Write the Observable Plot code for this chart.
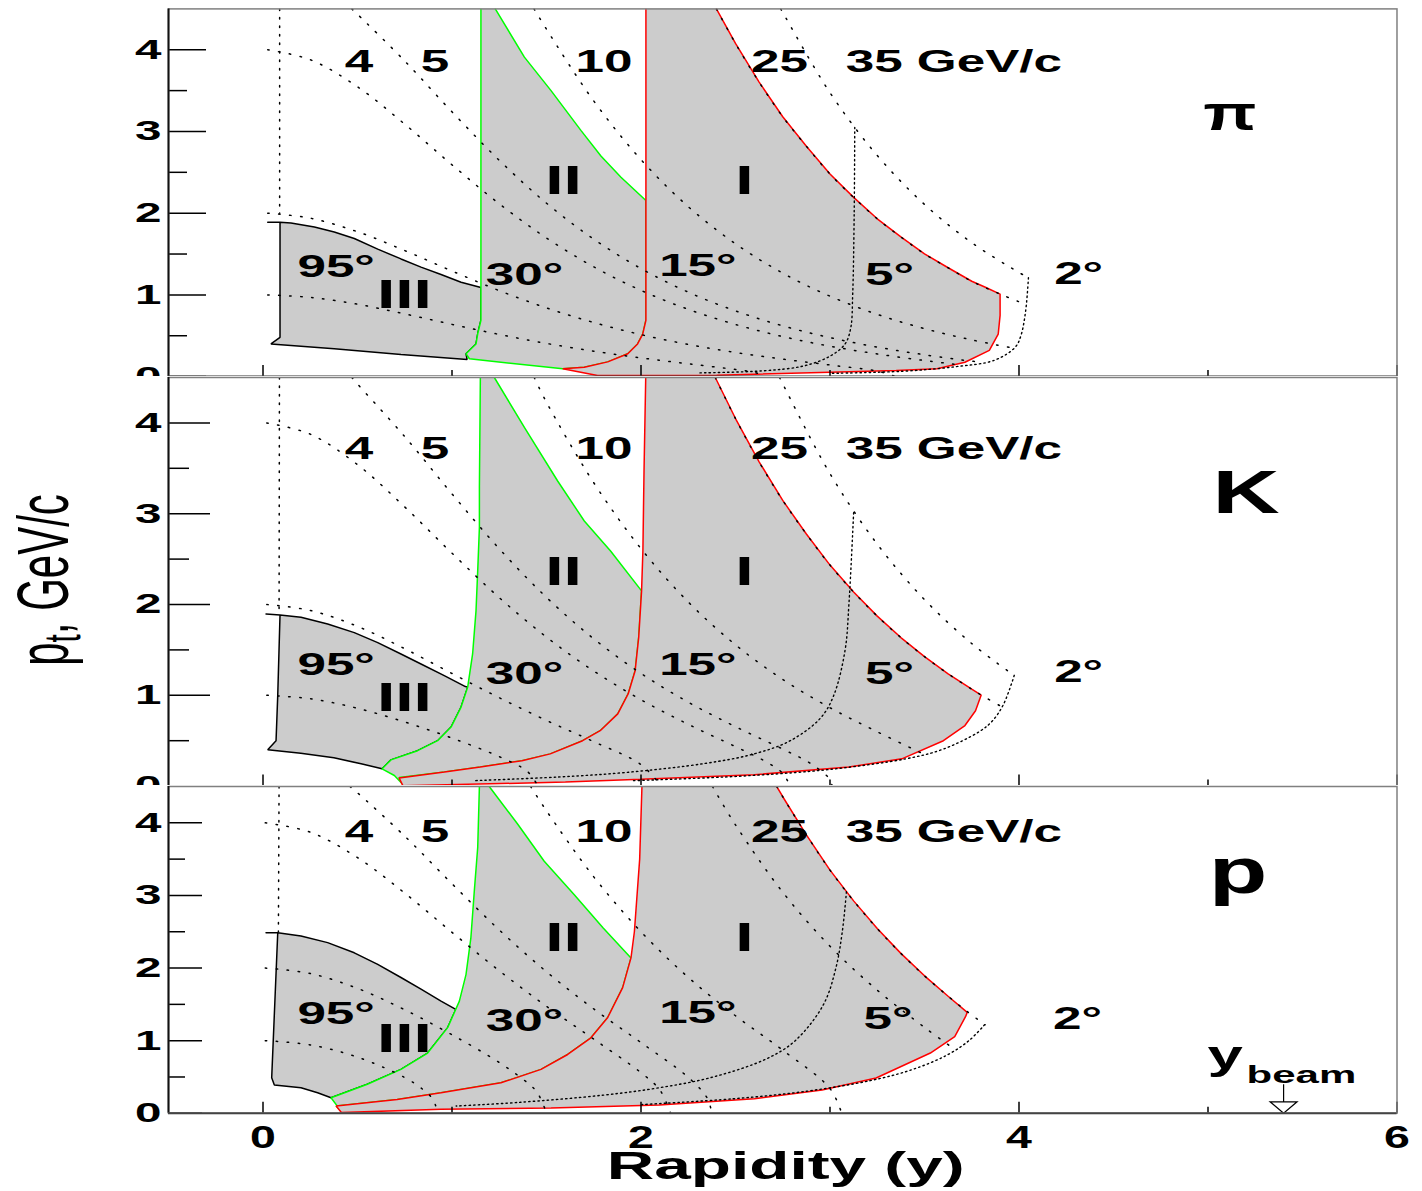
<!DOCTYPE html>
<html><head><meta charset="utf-8">
<script src="https://cdn.jsdelivr.net/npm/d3@7"></script>
<script src="https://cdn.jsdelivr.net/npm/@observablehq/plot@0.6"></script>
<style>
body{margin:0;background:#fff;}
#chart{position:relative;width:1422px;height:1191px;overflow:hidden;background:#fff;}
#chart svg{position:absolute;left:0;overflow:visible;}
</style></head><body><div id="chart"></div>
<script>
// ---------- axis / label data ----------
const xDomain = [-0.5, 6];
const yDomain = [0, 4.5];
const yMajor = [0, 1, 2, 3, 4];
const yMinor = [0.5, 1.5, 2.5, 3.5];
const xMajor = [0, 2, 4, 6];
const xMinor = [1, 3, 5];
const momentumLabels = ["4", "5", "10", "25", "35 GeV/c"];
const angleLabels = ["95°", "30°", "15°", "5°", "2°"];
const regionLabels = ["III", "II", "I"];
const particleLabels = ["π", "K", "p"];
const xTitle = "Rapidity (y)";
const yBeam = 5.4;

// ---------- pion panel (rapidity, pt) ----------
const piRegionIII = [[0.025,1.89],[0.09,1.89],[0.148,1.88],[0.272,1.83],[0.377,1.77],[0.483,1.69],[0.607,1.56],[0.73,1.44],[0.836,1.34],[0.942,1.25],[1.048,1.155],[1.153,1.09],[1.153,0.69],[1.136,0.524],[1.127,0.40],[1.074,0.279],[1.08,0.21],[0.73,0.27],[0.377,0.34],[0.042,0.40],[0.09,0.48],[0.09,1.89]];
const piRegionII = [[1.229,4.5],[1.383,3.91],[1.524,3.50],[1.683,3.01],[1.788,2.70],[1.894,2.44],[2.026,2.155],[2.026,0.69],[2.009,0.52],[1.982,0.40],[1.93,0.28],[1.824,0.18],[1.70,0.115],[1.586,0.095],[1.092,0.218],[1.074,0.279],[1.127,0.40],[1.136,0.524],[1.153,0.69],[1.153,4.5]];
const piRegionI = [[2.026,4.5],[2.026,0.69],[2.009,0.52],[1.982,0.40],[1.93,0.28],[1.824,0.18],[1.70,0.115],[1.586,0.095],[1.77,0.013],[2.4,0.015],[3.0,0.054],[3.35,0.075],[3.566,0.095],[3.714,0.176],[3.843,0.32],[3.89,0.52],[3.90,0.75],[3.90,1.01],[3.825,1.09],[3.75,1.167],[3.625,1.332],[3.5,1.502],[3.375,1.709],[3.25,1.931],[3.125,2.193],[3.0,2.479],[2.875,2.819],[2.75,3.18],[2.625,3.604],[2.5,4.077],[2.399,4.5]];
const piP1 = [[0.025,1.0],[0.25,0.969],[0.5,0.886],[0.75,0.767],[1.0,0.639],[1.25,0.516],[1.5,0.406],[1.75,0.311],[2.0,0.229],[2.25,0.157],[2.5,0.087],[2.6,0.052],[2.66,0.0]];
const piP2 = [[0.025,2.0],[0.25,1.939],[0.5,1.773],[0.75,1.542],[1.0,1.292],[1.25,1.052],[1.5,0.841],[1.75,0.662],[2.0,0.514],[2.25,0.394],[2.5,0.295],[2.75,0.214],[3.0,0.142],[3.25,0.067],[3.35,0.0]];
const piP4 = [[0.025,4.0],[0.25,3.878],[0.5,3.547],[0.75,3.089],[1.0,2.592],[1.25,2.115],[1.5,1.696],[1.75,1.343],[2.0,1.055],[2.25,0.823],[2.5,0.638],[2.75,0.49],[3.0,0.372],[3.25,0.277],[3.5,0.197],[3.7,0.14]];
const piP5 = [[0.47,4.5],[0.5,4.434],[0.75,3.862],[1.0,3.24],[1.25,2.647],[1.5,2.122],[1.75,1.682],[2.0,1.322],[2.25,1.033],[2.5,0.804],[2.75,0.621],[3.0,0.477],[3.25,0.361],[3.5,0.267],[3.75,0.189],[3.8,0.178]];
const piP10 = [[1.434,4.5],[1.5,4.251],[1.75,3.373],[2.0,2.655],[2.25,2.08],[2.5,1.625],[2.75,1.266],[3.0,0.984],[3.25,0.762],[3.5,0.587],[3.75,0.449],[3.98,0.345]];
const piP25 = [[2.399,4.5],[2.5,4.077],[2.625,3.604],[2.75,3.18],[2.875,2.819],[3.0,2.479],[3.125,2.193],[3.25,1.931],[3.375,1.709],[3.5,1.502],[3.625,1.332],[3.75,1.167],[3.9,1.01],[4.03,0.888]];
const piP35 = [[2.739,4.5],[2.75,4.457],[3.0,3.474],[3.25,2.706],[3.5,2.107],[3.75,1.639],[4.0,1.274],[4.05,1.21]];
const piA95 = [[0.088,4.5],[0.088,2.0]];
const piA5 = [[3.131,3.05],[3.128,2.0],[3.12,1.0],[3.11,0.6],[3.08,0.4],[3.0,0.25],[2.86,0.13],[2.64,0.07],[2.3,0.045]];
const piA2 = [[4.05,1.21],[4.035,0.8],[4.01,0.5],[3.98,0.36],[3.87,0.2],[3.66,0.12],[3.38,0.065],[3.0,0.04]];

// ---------- kaon panel ----------
const kRegionIII = [[0.016,1.895],[0.09,1.885],[0.201,1.86],[0.342,1.785],[0.483,1.69],[0.607,1.58],[0.73,1.455],[0.836,1.345],[0.959,1.217],[1.071,1.096],[1.083,1.09],[1.048,0.87],[0.995,0.65],[0.924,0.50],[0.818,0.39],[0.677,0.289],[0.63,0.19],[0.519,0.245],[0.375,0.311],[0.20,0.362],[0.025,0.40],[0.069,0.50],[0.078,1.0],[0.09,1.885]];
const kRegionII = [[1.224,4.5],[1.383,3.95],[1.559,3.36],[1.70,2.92],[1.839,2.59],[2.003,2.15],[1.988,1.64],[1.969,1.27],[1.932,1.015],[1.877,0.795],[1.784,0.61],[1.691,0.50],[1.52,0.355],[1.37,0.28],[1.15,0.21],[0.96,0.155],[0.72,0.095],[0.739,0.02],[0.695,0.117],[0.63,0.19],[0.677,0.289],[0.818,0.39],[0.924,0.50],[0.995,0.65],[1.048,0.87],[1.083,1.09],[1.109,1.455],[1.127,1.93],[1.136,2.37],[1.145,2.85],[1.145,3.29],[1.15,4.5]];
const kRegionI = [[2.025,4.5],[2.016,3.47],[2.01,2.59],[2.003,2.15],[1.988,1.64],[1.969,1.27],[1.932,1.015],[1.877,0.795],[1.784,0.61],[1.691,0.50],[1.52,0.355],[1.37,0.28],[1.15,0.21],[0.96,0.155],[0.72,0.09],[0.74,0.005],[1.2,0.025],[1.6,0.045],[2.0,0.075],[2.6,0.125],[3.1,0.21],[3.38,0.30],[3.60,0.50],[3.714,0.667],[3.77,0.83],[3.80,1.003],[3.75,1.067],[3.625,1.237],[3.5,1.426],[3.375,1.636],[3.25,1.872],[3.125,2.137],[3.0,2.434],[2.875,2.776],[2.75,3.146],[2.625,3.571],[2.5,4.048],[2.393,4.5]];
const kP1 = [[0.02,1.0],[0.25,0.962],[0.5,0.857],[0.75,0.706],[1.0,0.528],[1.25,0.324],[1.4,0.159],[1.455,0.0]];
const kP2 = [[0.02,2.0],[0.25,1.935],[0.5,1.759],[0.75,1.513],[1.0,1.24],[1.25,0.973],[1.5,0.723],[1.75,0.489],[2.0,0.237],[2.107,0.0]];
const kP4 = [[0.02,4.0],[0.25,3.876],[0.5,3.54],[0.75,3.074],[1.0,2.565],[1.25,2.076],[1.5,1.641],[1.75,1.267],[2.0,0.951],[2.25,0.68],[2.5,0.434],[2.65,0.281],[2.75,0.14],[2.789,0.0]];
const kP5 = [[0.47,4.5],[0.5,4.428],[0.75,3.849],[1.0,3.218],[1.25,2.614],[1.5,2.078],[1.75,1.622],[2.0,1.241],[2.25,0.924],[2.5,0.654],[2.75,0.407],[2.9,0.245],[3.0,0.073],[3.011,0.0]];
const kP10 = [[1.435,4.5],[1.5,4.227],[1.75,3.341],[2.0,2.615],[2.25,2.028],[2.5,1.556],[2.75,1.175],[3.0,0.863],[3.25,0.598],[3.5,0.348]];
const kP25 = [[2.393,4.5],[2.5,4.048],[2.625,3.571],[2.75,3.146],[2.875,2.776],[3.0,2.434],[3.125,2.137],[3.25,1.872],[3.375,1.636],[3.5,1.426],[3.625,1.237],[3.75,1.067],[3.8,1.003],[3.92,0.86]];
const kP35 = [[2.733,4.5],[2.75,4.43],[3.0,3.441],[3.25,2.665],[3.5,2.054],[3.75,1.57],[3.97,1.225]];
const kA95 = [[0.087,4.5],[0.085,1.9]];
const kA5 = [[3.125,3.01],[3.10,2.0],[3.08,1.5],[3.02,1.0],[2.95,0.75],[2.79,0.5],[2.59,0.35],[2.34,0.25],[1.92,0.15],[1.56,0.1],[1.12,0.06]];
const kA2 = [[3.975,1.22],[3.918,0.9],[3.86,0.72],[3.79,0.6],[3.59,0.4],[3.4,0.3],[3.07,0.2],[2.82,0.15],[2.44,0.1],[1.96,0.06]];

// ---------- proton panel ----------
const pRegionIII = [[0.016,2.486],[0.078,2.486],[0.201,2.44],[0.342,2.35],[0.483,2.21],[0.607,2.05],[0.73,1.87],[0.836,1.71],[0.942,1.545],[1.02,1.43],[0.977,1.18],[0.871,0.83],[0.73,0.605],[0.552,0.40],[0.36,0.215],[0.289,0.284],[0.201,0.352],[0.06,0.39],[0.046,0.49],[0.078,2.486]];
const pRegionII = [[1.197,4.5],[1.348,3.98],[1.488,3.47],[1.647,3.01],[1.80,2.55],[1.947,2.14],[1.903,1.73],[1.823,1.315],[1.735,1.04],[1.612,0.81],[1.471,0.605],[1.259,0.42],[0.942,0.284],[0.71,0.19],[0.387,0.10],[0.413,0.03],[0.36,0.215],[0.552,0.40],[0.73,0.605],[0.871,0.83],[0.977,1.18],[1.039,1.545],[1.074,1.91],[1.10,2.42],[1.118,3.06],[1.136,3.66],[1.145,4.5]];
const pRegionI = [[2.005,4.5],[1.993,3.5],[1.965,2.5],[1.947,2.14],[1.903,1.73],[1.823,1.315],[1.735,1.04],[1.612,0.81],[1.471,0.605],[1.259,0.42],[0.942,0.284],[0.71,0.19],[0.387,0.10],[0.415,0.01],[0.942,0.055],[1.524,0.073],[2.097,0.114],[2.6,0.2],[2.958,0.32],[3.244,0.486],[3.531,0.83],[3.66,1.055],[3.717,1.33],[3.726,1.39],[3.625,1.612],[3.5,1.893],[3.375,2.202],[3.25,2.544],[3.125,2.925],[3.0,3.349],[2.875,3.835],[2.75,4.359],[2.718,4.5]];
const pP1 = [[0.012,1.0],[0.25,0.942],[0.5,0.774],[0.75,0.492],[0.85,0.32],[0.9,0.189],[0.925,0.0]];
const pP2 = [[0.012,2.0],[0.25,1.925],[0.5,1.72],[0.75,1.425],[1.0,1.081],[1.25,0.699],[1.4,0.418],[1.45,0.292],[1.501,0.0]];
const pP4 = [[0.012,4.0],[0.25,3.871],[0.5,3.521],[0.75,3.032],[1.0,2.492],[1.25,1.963],[1.5,1.473],[1.75,1.021],[2.0,0.559],[2.1,0.321],[2.157,0.0]];
const pP5 = [[0.46,4.5],[0.5,4.413],[0.75,3.816],[1.0,3.161],[1.25,2.525],[1.5,1.949],[1.75,1.437],[2.0,0.974],[2.25,0.495],[2.35,0.211],[2.375,0.0]];
const pP10 = [[1.416,4.5],[1.5,4.165],[1.75,3.256],[2.0,2.5],[2.25,1.872],[2.5,1.343],[2.75,0.869],[3.0,0.34],[3.062,0.0]];
const pP25 = [[2.378,4.5],[2.5,3.971],[2.75,3.044],[3.0,2.301],[3.25,1.695],[3.5,1.183],[3.66,0.88]];
const pP35 = [[2.718,4.5],[2.75,4.359],[2.875,3.835],[3.0,3.349],[3.125,2.925],[3.25,2.544],[3.375,2.202],[3.5,1.893],[3.625,1.612],[3.726,1.4],[3.82,1.22]];
const pA95 = [[0.085,4.5],[0.0815,2.5]];
const pA5 = [[3.087,3.05],[3.065,2.5],[3.031,2.0],[2.966,1.5],[2.816,1.0],[2.664,0.75],[2.382,0.5],[2.092,0.35],[1.8,0.25],[1.352,0.15],[1.022,0.1]];
const pA2 = [[3.818,1.22],[3.735,1.0],[3.618,0.8],[3.433,0.6],[3.213,0.45],[2.865,0.3],[2.489,0.2],[2.004,0.12]];

// ---------- rendering ----------
const FONT = "Liberation Sans, Arial, Helvetica, sans-serif";
const GRAY = "#cccccc", GREEN = "#00ff00", RED = "#ff0000";

const panels = [
  {top: 0, mt: 8.4, fh: 367.7, mb: 16,
   regions: [[piRegionIII, "#000"], [piRegionII, GREEN], [piRegionI, RED]],
   mom: [piP1, piP2, piP4, piP5, piP10, piP25, piP35], a95: piA95, angs: [piA5, piA2],
   momY: 3.848, angY: [1.348, 1.25, 1.36, 1.25, 1.262], angX: [0.182, 1.179, 2.096, 3.185, 4.186],
   regY: [0.993, 2.388, 2.388], part: {x: 5.116, y: 3.21, size: 48}, tick: [38, 19]},
  {top: 376, mt: 1, fh: 408.6, mb: 16,
   regions: [[kRegionIII, "#000"], [kRegionII, GREEN], [kRegionI, RED]],
   mom: [kP1, kP2, kP4, kP5, kP10, kP25, kP35], a95: kA95, angs: [kA5, kA2],
   momY: 3.714, angY: [1.338, 1.239, 1.338, 1.239, 1.26], angX: [0.182, 1.179, 2.096, 3.185, 4.186],
   regY: [0.963, 2.36, 2.36], part: {x: 5.201, y: 3.23, size: 62}, tick: [42, 21]},
  {top: 784.5, mt: 1, fh: 326.8, mb: 78.7,
   regions: [[pRegionIII, "#000"], [pRegionII, GREEN], [pRegionI, RED]],
   mom: [pP1, pP2, pP4, pP5, pP10, pP25, pP35], a95: pA95, angs: [pA5, pA2],
   momY: 3.872, angY: [1.374, 1.27, 1.385, 1.298, 1.298], angX: [0.182, 1.179, 2.096, 3.177, 4.18],
   regY: [1.023, 2.406, 2.406], part: {x: 5.159, y: 3.321, size: 64}, tick: [34, 17], bottom: true}
];
const momX = [0.433, 0.835, 1.653, 2.582, 3.083];
const regX = [0.748, 1.59, 2.547];

// horizontal stretch of the wide bold lettering, keyed by font size
const textStretch = {32: 1.6, 40: 1.65, 48: 1.45, 62: 1.5, 64: 1.5, 38: 1.73, 41: 1.55, 24: 1.75};

const container = document.getElementById("chart");

function stretchGroup(g, sx) {
  g.querySelectorAll("text").forEach(t => {
    t.setAttribute("transform", (t.getAttribute("transform") || "") + ` scale(${sx},1)`);
  });
}

const arrowSymbol = {
  draw(ctx) {
    ctx.moveTo(0, -29); ctx.lineTo(0, -11.5);
    ctx.moveTo(-13.5, -11.5); ctx.lineTo(13.5, -11.5); ctx.lineTo(0, 0); ctx.closePath();
  }
};
const intFormat = d => String(d);

panels.forEach((cfg, pi) => {
  const line = (pts, o) => Plot.line(pts, {x: d => d[0], y: d => d[1], clip: true, ...o});
  const marks = [];
  cfg.regions.forEach(([pts, color]) => marks.push(line(pts, {fill: GRAY, stroke: color, strokeWidth: 1.5, strokeLinejoin: "miter"})));
  cfg.mom.forEach(pts => marks.push(line(pts, {stroke: "#000", strokeWidth: 1.5, strokeDasharray: "1.5 9.5", curve: "catmull-rom"})));
  marks.push(line(cfg.a95, {stroke: "#000", strokeWidth: 1.5, strokeDasharray: "1.5 7"}));
  cfg.angs.forEach(pts => marks.push(line(pts, {stroke: "#000", strokeWidth: 1.4, strokeDasharray: "1.4 3.2", curve: "catmull-rom"})));

  marks.push(Plot.text(momentumLabels.map((t, i) => ({t, x: momX[i], y: cfg.momY})),
    {x: "x", y: "y", text: "t", textAnchor: "start", fontSize: 32, fontWeight: "bold", fontFamily: FONT, fill: "#000"}));
  marks.push(Plot.text(angleLabels.map((t, i) => ({t, x: cfg.angX[i], y: cfg.angY[i]})),
    {x: "x", y: "y", text: "t", textAnchor: "start", fontSize: 32, fontWeight: "bold", fontFamily: FONT, fill: "#000"}));
  marks.push(Plot.text(regionLabels.map((t, i) => ({t, x: regX[i], y: cfg.regY[i]})),
    {x: "x", y: "y", text: "t", textAnchor: "middle", fontSize: 40, fontWeight: "bold", fontFamily: FONT, fill: "#000"}));
  marks.push(Plot.text([{t: particleLabels[pi], x: cfg.part.x, y: cfg.part.y}],
    {x: "x", y: "y", text: "t", textAnchor: "middle", fontSize: cfg.part.size, fontWeight: "bold", fontFamily: FONT, fill: "#000"}));

  // axes
  marks.push(Plot.axisY(yMajor, {anchor: "left", tickSize: -cfg.tick[0], tickPadding: cfg.tick[0] + 7, tickFormat: intFormat, fontSize: 28, fontWeight: "bold", fontFamily: FONT, strokeWidth: 1.5, label: null}));
  marks.push(Plot.axisY(yMinor, {anchor: "left", tickSize: -cfg.tick[1], fill: "none", strokeWidth: 1.5, label: null}));
  if (cfg.bottom) {
    marks.push(Plot.axisX(xMajor, {anchor: "bottom", tickSize: -11, tickPadding: 23.7, tickFormat: intFormat, fontSize: 31, fontWeight: "bold", fontFamily: FONT, strokeWidth: 1.5, label: null}));
    marks.push(Plot.text([xTitle], {frameAnchor: "bottom", dx: 3, dy: 66, lineAnchor: "bottom", fontSize: 38, fontWeight: "bold", fontFamily: FONT, fill: "#000"}));
    marks.push(Plot.text([{t: "y", x: 4.998, y: 0.61}], {x: "x", y: "y", text: "t", textAnchor: "start", lineAnchor: "bottom", fontSize: 41, fontWeight: "bold", fontFamily: FONT, fill: "#000"}));
    marks.push(Plot.text([{t: "beam", x: 5.204, y: 0.417}], {x: "x", y: "y", text: "t", textAnchor: "start", lineAnchor: "bottom", fontSize: 24, fontWeight: "bold", fontFamily: FONT, fill: "#000"}));
    marks.push(Plot.dot([yBeam], {x: d => d, y: () => 0, symbol: arrowSymbol, fill: "white", stroke: "#000", strokeWidth: 1.2}));
  } else {
    marks.push(Plot.axisX(xMajor, {anchor: "bottom", tickSize: -11, fill: "none", strokeWidth: 1.5, label: null}));
  }
  marks.push(Plot.axisX(xMinor, {anchor: "bottom", tickSize: -6, fill: "none", strokeWidth: 1.5, label: null}));
  marks.push(Plot.frame({stroke: "#808080", strokeWidth: 1.5}));
  marks.push(Plot.ruleX([xDomain[0]], {stroke: "#111", strokeWidth: 2}));
  marks.push(Plot.ruleY([yDomain[0]], {stroke: "#444", strokeWidth: 2}));

  const svg = Plot.plot({
    width: 1422, height: cfg.mt + cfg.fh + cfg.mb,
    marginLeft: 168, marginRight: 25.5, marginTop: cfg.mt, marginBottom: cfg.mb,
    x: {domain: xDomain}, y: {domain: yDomain},
    style: {background: "white", overflow: "visible", fontFamily: FONT, color: "#000"},
    marks
  });
  svg.style.top = cfg.top + "px";
  container.appendChild(svg);

  svg.querySelectorAll('g[aria-label="text"]').forEach(g => {
    const s = textStretch[parseFloat(g.getAttribute("font-size"))];
    if (s) stretchGroup(g, s);
  });
  svg.querySelectorAll('g[aria-label="y-axis tick label"]').forEach(g => stretchGroup(g, 1.7));
  svg.querySelectorAll('g[aria-label="x-axis tick label"]').forEach(g => stretchGroup(g, 1.5));

  if (pi === 1) {
    // y-axis title: p_t, GeV/c (rotated, stretched like the original)
    const t = d3.select(svg).append("text")
      .attr("transform", `translate(68,${580 - cfg.top}) rotate(-90) scale(1,1.72)`)
      .attr("text-anchor", "middle").attr("font-family", FONT).attr("font-size", 42).attr("fill", "#000");
    t.append("tspan").text("p");
    t.append("tspan").attr("dy", 7).attr("font-size", 30).text("t");
    t.append("tspan").attr("dy", -7).text(", GeV/c");
  }
});
</script></body></html>
